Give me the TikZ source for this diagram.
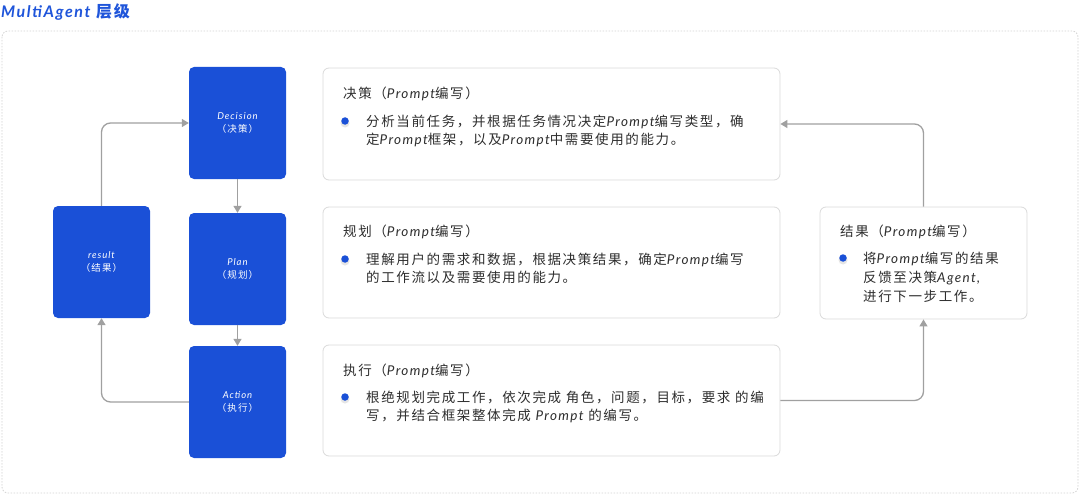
\documentclass[tikz,border=0pt]{standalone}
\usepackage{fontspec}
\setmainfont{Noto Sans CJK SC}[LetterSpace=12]
\newfontfamily\enfont{Lato}[LetterSpace=10]
\usetikzlibrary{arrows.meta}
\definecolor{boxblue}{HTML}{1A50D7}
\definecolor{titleblue}{HTML}{1F55DA}
\definecolor{arrowgrey}{HTML}{A0A0A0}
\definecolor{cardline}{HTML}{DADADA}
\definecolor{frameline}{HTML}{D2D2D2}
\definecolor{txt}{HTML}{2E2E2E}
\newcommand\en[1]{{\enfont\itshape #1}}
\tikzset{
  agent/.style={fill=boxblue, rounded corners=5pt, minimum width=97pt, minimum height=112pt,
    inner sep=0pt, text=white, align=center, font=\fontsize{9.5}{12.5}\selectfont},
  card/.style={draw=cardline, line width=0.8pt, fill=white, rounded corners=6pt, inner sep=0pt},
  cardtitle/.style={anchor=west, inner sep=0pt, text=txt, font=\fontsize{13.5}{16}\selectfont},
  cardbody/.style={anchor=north west, inner sep=0pt, text=txt, align=left, font=\fontsize{13.5}{18}\selectfont},
  bulletdot/.style={circle, fill=boxblue, minimum size=7.5pt, inner sep=0pt},
  arr/.style={draw=arrowgrey, line width=1.3pt, rounded corners=9pt, -{Triangle[length=7pt,width=8pt]}}
}
\begin{document}
\begin{tikzpicture}[x=1pt,y=-1pt]
\useasboundingbox (0,0) rectangle (1080,495);
% frame
\draw[frameline, line width=0.8pt, dash pattern=on 1.5pt off 1.5pt, rounded corners=6pt] (2,31) rectangle (1078,493);
\node[anchor=west, inner sep=0pt, text=titleblue, font=\fontsize{16}{18}\selectfont\bfseries] (title) at (1,12) {\en{\bfseries MultiAgent} 层级};

% agent boxes
\node[agent] (dec) at (237.5,123) {\en{Decision}\\（决策）};
\node[agent] (plan) at (237.5,269) {\en{Plan}\\（规划）};
\node[agent] (act) at (237.5,402) {\en{Action}\\（执行）};
\node[agent] (res) at (101.5,262) {\en{result}\\（结果）};

% cards
\node[card, minimum width=457pt, minimum height=112pt] (c1) at (551.5,124) {};
\node[card, minimum width=457pt, minimum height=111pt] (c2) at (551.5,262.5) {};
\node[card, minimum width=457pt, minimum height=111pt] (c3) at (551.5,400.5) {};
\node[card, minimum width=207pt, minimum height=112pt] (cr) at (923.5,263) {};

% card 1
\node[cardtitle] (t1) at (343,94) {决策（\en{Prompt}编写）};
\fill[black!10] (345,123) circle (4.5pt);
\node[bulletdot] (b1) at (345,121) {};
\node[cardbody] (x1) at (366,115) {分析当前任务，并根据任务情况决定\en{Prompt}编写类型，确\\定\en{Prompt}框架，以及\en{Prompt}中需要使用的能力。};

% card 2
\node[cardtitle] (t2) at (343,232) {规划（\en{Prompt}编写）};
\fill[black!10] (345,261) circle (4.5pt);
\node[bulletdot] (b2) at (345,259) {};
\node[cardbody] (x2) at (366,253) {理解用户的需求和数据，根据决策结果，确定\en{Prompt}编写\\的工作流以及需要使用的能力。};

% card 3
\node[cardtitle] (t3) at (343,371) {执行（\en{Prompt}编写）};
\fill[black!10] (345,399) circle (4.5pt);
\node[bulletdot] (b3) at (345,397) {};
\node[cardbody] (x3) at (366,391) {根绝规划完成工作，依次完成 角色，问题，目标，要求 的编\\写，并结合框架整体完成 \en{Prompt} 的编写。};

% result card
\node[cardtitle] (tr) at (840,232) {结果（\en{Prompt}编写）};
\fill[black!10] (843,260) circle (4.5pt);
\node[bulletdot] (br) at (843,258) {};
\node[cardbody, font=\fontsize{13.5}{19}\selectfont] (xr) at (863,252) {将\en{Prompt}编写的结果\\反馈至决策\en{Agent,}\\进行下一步工作。};

% connectors
\draw[arr] (dec) -- (plan);
\draw[arr] (plan) -- (act);
\draw[arr] (res.north) |- (dec.west);
\draw[arr] (act.west) -| (res.south);
\draw[arr] (cr.north) |- (c1.east);
\draw[arr] (c3.east) -| (cr.south);
\end{tikzpicture}
\end{document}
